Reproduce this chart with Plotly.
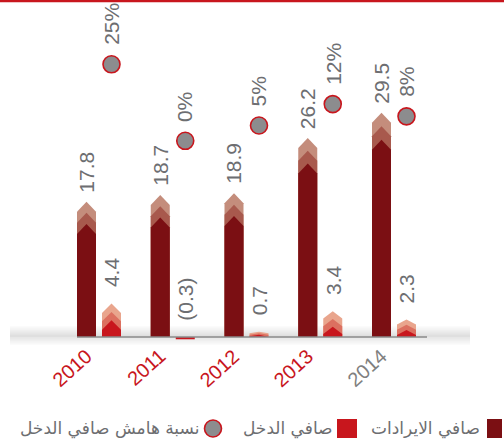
import plotly.graph_objects as go

# ---------------- data ----------------
years = ["2010", "2011", "2012", "2013", "2014"]
net_revenue = [17.8, 18.7, 18.9, 26.2, 29.5]
net_income = [4.4, -0.3, 0.7, 3.4, 2.3]
net_margin = [25, 0, 5, 12, 8]
revenue_labels = ["17.8", "18.7", "18.9", "26.2", "29.5"]
income_labels = ["4.4", "(0.3)", "0.7", "3.4", "2.3"]
margin_labels = ["25%", "0%", "5%", "12%", "8%"]
year_colors = ["#c8161d", "#c8161d", "#c8161d", "#c8161d", "#808080"]
legend_names = ["صافي الايرادات", "صافي الدخل", "نسبة هامش صافي الدخل"]

# ---------------- layout constants ----------------
W, H = 504, 446
L, R, T, B = 77, 77, 1, 100
PW, PH = W - L - R, H - T - B
XR = [-0.2983, 4.4475]
YR = [-1.184, 44.21]
Y2R = [-67.06, 45.69]
XPU = PW / (XR[1] - XR[0])
YPU = PH / (YR[1] - YR[0])

REV_COLORS = ["#c48d7c", "#a8594d", "#7b0f13"]
INC_COLORS = ["#e9a58d", "#dc7060", "#c8161d"]
GREY_TXT = "#6d6e71"
FONT = "Liberation Sans, Arial, sans-serif"

half_w = 9.5 / XPU
offset = 12.5 / XPU

fig = go.Figure()


def chevron_bar(xc, val, colors):
    hpx = val * YPU
    step = min(7.5 + 0.0266 * hpx, 0.3 * hpx)
    tri = min(10.0, 0.28 * hpx)
    for k, col in enumerate(colors):
        peak = val - k * step / YPU
        side = peak - tri / YPU
        xs = [xc - half_w, xc - half_w, xc, xc + half_w, xc + half_w, xc - half_w]
        ys = [0, side, peak, side, 0, 0]
        fig.add_trace(go.Scatter(x=xs, y=ys, mode="lines", fill="toself",
                                 fillcolor=col, line=dict(width=0),
                                 hoverinfo="skip", showlegend=False))


def flat_bar(xc, val, col):
    xs = [xc - half_w, xc - half_w, xc + half_w, xc + half_w, xc - half_w]
    ys = [0, val, val, 0, 0]
    fig.add_trace(go.Scatter(x=xs, y=ys, mode="lines", fill="toself",
                             fillcolor=col, line=dict(width=0),
                             hoverinfo="skip", showlegend=False))


shapes = []
# soft shadow around the baseline
for i in range(8):
    shapes.append(dict(type="rect", xref="paper", yref="y",
                       x0=(10 - L) / PW, x1=(470 - L) / PW,
                       y0=0, y1=(11 - i * 1.3) / YPU,
                       fillcolor="rgba(120,120,120,0.028)", line=dict(width=0), layer="below"))
for i in range(6):
    shapes.append(dict(type="rect", xref="paper", yref="y",
                       x0=(10 - L) / PW, x1=(470 - L) / PW,
                       y0=-(8 - i * 1.3) / YPU, y1=0,
                       fillcolor="rgba(120,120,120,0.028)", line=dict(width=0), layer="below"))
# baseline
shapes.append(dict(type="line", xref="paper", yref="y", x0=0, x1=1, y0=0, y1=0,
                   line=dict(color="#8a8a8a", width=1.5)))

annotations = []
for i in range(len(years)):
    xr_ = i - offset
    xi_ = i + offset
    chevron_bar(xr_, net_revenue[i], REV_COLORS)
    if net_income[i] > 0:
        chevron_bar(xi_, net_income[i], INC_COLORS)
    else:
        flat_bar(xi_, net_income[i], INC_COLORS[2])
    annotations.append(dict(x=xr_, y=net_revenue[i], text=revenue_labels[i], textangle=-90,
                            showarrow=False, xanchor="center", yanchor="bottom", yshift=7,
                            font=dict(size=21, color=GREY_TXT, family=FONT)))
    annotations.append(dict(x=xi_, y=max(net_income[i], 0), text=income_labels[i], textangle=-90,
                            showarrow=False, xanchor="center", yanchor="bottom", yshift=14,
                            font=dict(size=21, color=GREY_TXT, family=FONT)))
    annotations.append(dict(x=xi_, y=net_margin[i], yref="y2", text=margin_labels[i], textangle=-90,
                            showarrow=False, xanchor="center", yanchor="bottom", yshift=17,
                            font=dict(size=21, color=GREY_TXT, family=FONT)))
    # category label
    annotations.append(dict(x=i, y=0, text=years[i], textangle=-42, showarrow=False,
                            xanchor="right", yanchor="top", xshift=0, yshift=-5,
                            font=dict(size=20, color=year_colors[i], family=FONT)))

fig.add_trace(go.Scatter(x=[i + offset for i in range(len(years))], y=net_margin, yaxis="y2",
                         mode="markers", showlegend=False, hoverinfo="skip",
                         marker=dict(size=17, color="#8c8c8e",
                                     line=dict(color="#c8161d", width=1.6))))

# top red rule
shapes.append(dict(type="line", xref="paper", yref="paper", x0=-L / PW, x1=(W - L) / PW,
                   y0=1, y1=1, line=dict(color="#c8161d", width=2.5)))


def px2x(p):
    return (p - L) / PW


def py2y(p):
    return (T + PH - p) / PH


# manual RTL legend
leg_y = 428
shapes.append(dict(type="rect", xref="paper", yref="paper", x0=px2x(487), x1=px2x(502),
                   y0=py2y(438), y1=py2y(419), fillcolor=REV_COLORS[2], line=dict(width=0)))
shapes.append(dict(type="rect", xref="paper", yref="paper", x0=px2x(337), x1=px2x(357),
                   y0=py2y(438), y1=py2y(419), fillcolor=INC_COLORS[2], line=dict(width=0)))
shapes.append(dict(type="circle", xref="paper", yref="paper", x0=px2x(204.5), x1=px2x(221.5),
                   y0=py2y(437), y1=py2y(420), fillcolor="#8c8c8e",
                   line=dict(color="#c8161d", width=1.6)))
for txt, xr_px in zip(legend_names, [482, 335, 201]):
    annotations.append(dict(xref="paper", yref="paper", x=px2x(xr_px), y=py2y(leg_y),
                            text=txt, showarrow=False, xanchor="right", yanchor="middle",
                            font=dict(size=17, color=GREY_TXT, family="DejaVu Sans, sans-serif")))

fig.update_layout(
    width=W, height=H,
    margin=dict(l=L, r=R, t=T, b=B),
    paper_bgcolor="white", plot_bgcolor="white",
    showlegend=False,
    xaxis=dict(range=XR, visible=False, showgrid=False, zeroline=False, fixedrange=True),
    yaxis=dict(range=YR, visible=False, showgrid=False, zeroline=False, fixedrange=True),
    yaxis2=dict(range=Y2R, overlaying="y", visible=False, showgrid=False, zeroline=False,
                fixedrange=True),
    shapes=shapes,
    annotations=annotations,
)

fig.write_html("out.html", config={"displayModeBar": False, "staticPlot": True},
               post_script="document.body.style.margin='0';document.body.style.padding='0';")
